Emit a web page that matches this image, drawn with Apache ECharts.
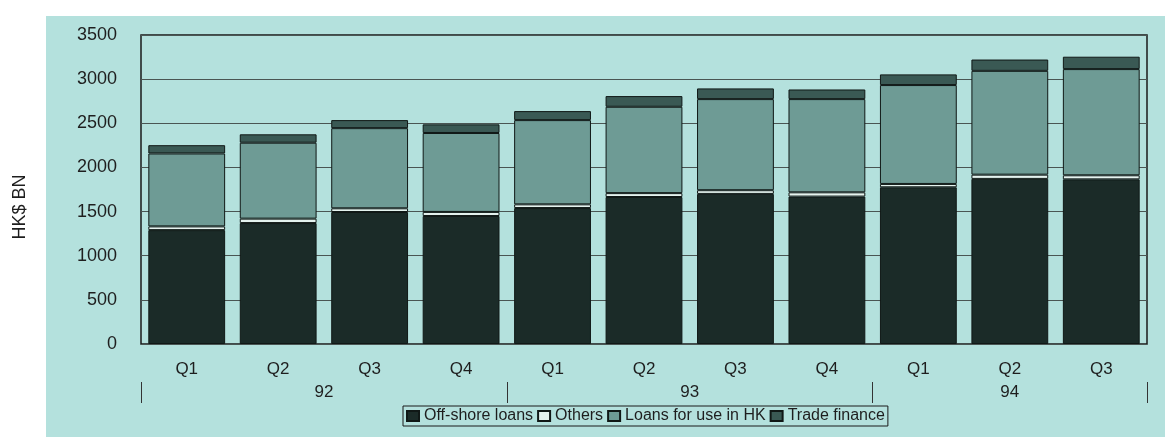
<!DOCTYPE html>
<html>
<head>
<meta charset="utf-8">
<script src="https://cdn.jsdelivr.net/npm/echarts@6/dist/echarts.min.js"></script>
<style>
  html,body{margin:0;padding:0;background:#fff;}
  #chart{width:1165px;height:437px;}
</style>
</head>
<body>
<div id="chart"></div>
<script>
// quarters and years on the x axis
var quarters = ['Q1','Q2','Q3','Q4','Q1','Q2','Q3','Q4','Q1','Q2','Q3'];
var years = ['92','93','94'];
var yearSpans = [4,4,3];

// HK$ BN
var offshore = [1290,1370,1495,1450,1540,1665,1700,1670,1775,1870,1865];
var others = [42,50,42,46,42,44,42,48,38,48,46];
var loansHK = [826,860,908,894,954,978,1032,1056,1120,1176,1203];
var tradeFinance = [94,95,91,98,102,121,121,109,121,128,140];

var yTicks = [0,500,1000,1500,2000,2500,3000,3500];

// year separators and label positions from the spans
var yearEdges = [0], yearMids = [], acc = 0;
yearSpans.forEach(function(s){
  yearMids.push(acc + s/2);
  acc += s;
  yearEdges.push(acc);
});

var bg = '#b4e1dd';
var txt = '#1e1e1e';

var chart = echarts.init(document.getElementById('chart'));

function bar(name, data, color){
  return {
    name: name,
    type: 'bar',
    stack: 'all',
    data: data,
    barWidth: '84%',
    itemStyle: {color: color, borderColor: '#101816', borderWidth: 1},
    emphasis: {disabled: true}
  };
}

chart.setOption({
  backgroundColor: bg,
  animation: false,
  textStyle: {fontFamily: 'Liberation Sans, Arial, sans-serif'},
  graphic: [
    {type:'rect', left:0, top:0, shape:{width:1165, height:16}, style:{fill:'#fff'}, silent:true},
    {type:'rect', left:0, top:0, shape:{width:46, height:437}, style:{fill:'#fff'}, silent:true},
    {type:'text', x:20, y:207, rotation:Math.PI/2, style:{text:'HK$ BN', fill:txt, font:'18px Liberation Sans, Arial, sans-serif', align:'center', verticalAlign:'middle'}}
  ],
  grid: {left:141, right:18, top:35, bottom:93, show:true, borderColor:'#1a1a1a', borderWidth:1.5, backgroundColor:'transparent'},
  legend: {
    left: 403, top: 406,
    data: ['Off-shore loans','Others','Loans for use in HK','Trade finance'],
    icon: 'rect',
    itemWidth: 12, itemHeight: 10, itemGap: 4,
    padding: [2,3],
    borderColor: '#1a1a1a', borderWidth: 1,
    textStyle: {fontSize: 16, color: txt}
  },
  xAxis: [
    {
      type: 'category',
      data: quarters,
      axisLine: {show:false},
      axisTick: {show:false},
      axisLabel: {fontSize:17, color:txt, margin:17}
    },
    {
      type: 'value',
      min: 0, max: quarters.length,
      position: 'bottom',
      offset: 38,
      axisLine: {show:false},
      splitLine: {show:false},
      axisTick: {show:true, customValues: yearEdges, length:21, lineStyle:{color:'#333', width:1}},
      axisLabel: {
        customValues: yearMids,
        fontSize: 17, color: txt, margin: 2,
        formatter: function(v){
          var i = yearMids.indexOf(v);
          return i >= 0 ? years[i] : '';
        }
      }
    }
  ],
  yAxis: {
    type: 'value',
    min: 0, max: yTicks[yTicks.length-1], interval: 500,
    axisLine: {show:false},
    axisTick: {show:false},
    axisLabel: {fontSize:18, color:txt, margin:24, formatter: function(v){ return String(v); }},
    splitLine: {lineStyle:{color:'#4a5553', width:1}}
  },
  series: [
    bar('Off-shore loans', offshore, '#1b2b28'),
    bar('Others', others, '#e4f2ee'),
    bar('Loans for use in HK', loansHK, '#6e9b95'),
    bar('Trade finance', tradeFinance, '#3a5954')
  ]
});
</script>
</body>
</html>
